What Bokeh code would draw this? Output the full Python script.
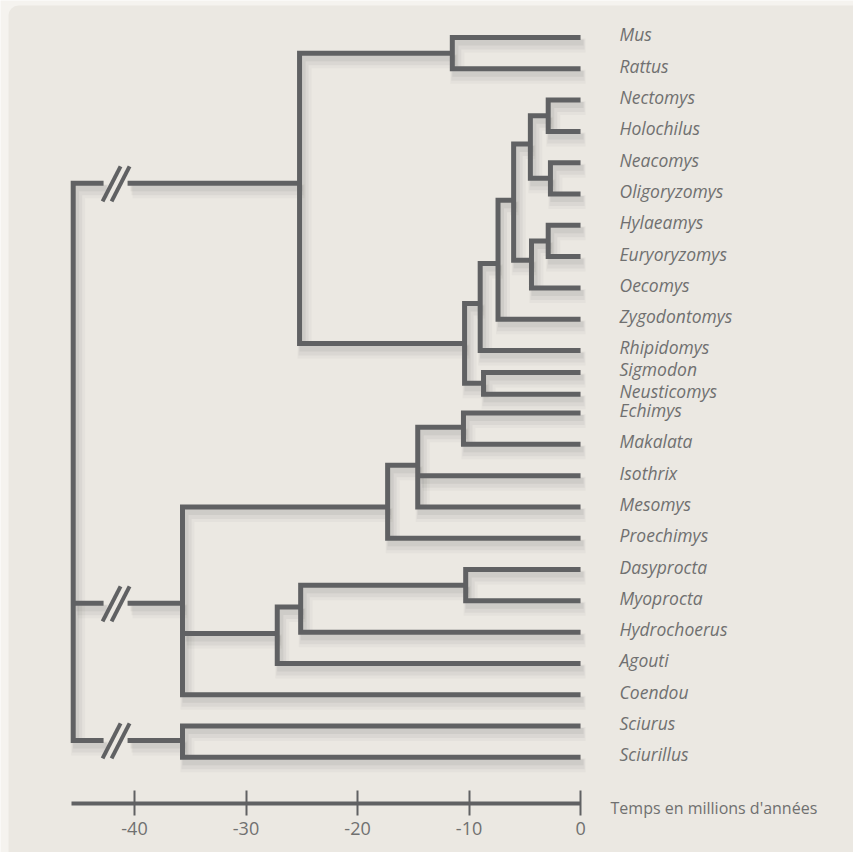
from bokeh.plotting import figure
from bokeh.models import Range1d, LinearAxis, FixedTicker, BoxAnnotation
from bokeh.embed import file_html
from bokeh.resources import INLINE
from bokeh.core.properties import value

# ---------------- data ----------------
leaf_names = ["Mus", "Rattus", "Nectomys", "Holochilus", "Neacomys", "Oligoryzomys",
              "Hylaeamys", "Euryoryzomys", "Oecomys", "Zygodontomys", "Rhipidomys",
              "Sigmodon", "Neusticomys", "Echimys", "Makalata", "Isothrix", "Mesomys",
              "Proechimys", "Dasyprocta", "Myoprocta", "Hydrochoerus", "Agouti",
              "Coendou", "Sciurus", "Sciurillus"]
leaf_rows = [0, 1, 2, 3, 4, 5, 6, 7, 8, 9, 10, 10.7, 11.4, 12, 13, 14, 15, 16,
             17, 18, 19, 20, 21, 22, 23]
leaf_parent = ["MusRattus", "MusRattus", "NectHolo", "NectHolo", "NeacOlig", "NeacOlig",
               "HylEury", "HylEury", "HylOec", "CladeB", "CladeA",
               "SigNeus", "SigNeus", "EchMak", "EchMak", "Echimyinae", "Echimyinae",
               "Echimyidae", "DasyMyo", "DasyMyo", "HydroN", "AgoutiN",
               "Hystricognathi", "Sciuridae", "Sciuridae"]

node_names = ["Racine", "Muridae", "MusRattus", "Sigmodontinae", "CladeA", "CladeB",
              "CladeC", "Oryz", "NectHolo", "NeacOlig", "HylOec", "HylEury", "SigNeus",
              "Hystricognathi", "Echimyidae", "Echimyinae", "EchMak", "AgoutiN",
              "HydroN", "DasyMyo", "Sciuridae"]
node_ages = [-45.5, -25.2, -11.5, -10.4, -9.0, -7.4,
             -6.0, -4.5, -2.9, -2.7, -4.4, -2.9, -8.7,
             -35.7, -17.3, -14.6, -10.5, -27.2,
             -25.1, -10.3, -35.7]
node_rows = [13.5, 4.66, 0.5, 9.78, 8.5, 7.22,
             5.2, 3.4, 2.5, 4.5, 7.12, 6.5, 11.05,
             18.08, 15.0, 13.67, 12.45, 19.04,
             18.2, 17.5, 22.46]
node_parent = [None, "Racine", "Muridae", "Muridae", "Sigmodontinae", "CladeA",
               "CladeB", "CladeC", "Oryz", "Oryz", "CladeC", "HylOec", "Sigmodontinae",
               "Racine", "Hystricognathi", "Echimyidae", "Echimyinae", "Hystricognathi",
               "AgoutiN", "HydroN", "Racine"]

broken_parent = "Racine"      # branches cut by the // marks
break_age = -41.7
axis_ticks = [-40, -30, -20, -10, 0]
axis_title = "Temps en millions d'années"

# ---------------- style ----------------
W, H = 853, 852
X_LO, X_HI = -52.02, 24.48
Y_TOP, Y_BOT = -1.182, 26.04
AXIS_ROW = 24.47
LINE = "#606163"
TEXT = "#707070"
BG = "#ebe8e2"
OUTER = "#f5f3ef"

ux = (X_HI - X_LO) / W      # data units per pixel (x)
uy = (Y_BOT - Y_TOP) / H    # rows per pixel (y)

p = figure(width=W, height=H, x_range=Range1d(X_LO, X_HI), y_range=Range1d(Y_BOT, Y_TOP),
           output_backend="svg", toolbar_location=None,
           x_axis_location=None, y_axis_location=None, min_border=0)
p.xgrid.visible = False
p.ygrid.visible = False
p.outline_line_color = None
p.background_fill_color = OUTER
p.border_fill_color = OUTER

# card
p.add_layout(BoxAnnotation(left=X_LO + 8 * ux, right=X_HI + 5, top=Y_TOP + 5 * uy,
                           bottom=Y_BOT + 5, fill_color=BG, fill_alpha=1.0,
                           line_color=None, border_radius=10, level="underlay"))

# ---------------- tree geometry ----------------
pos = {}
for n, r in zip(leaf_names, leaf_rows):
    pos[n] = (0.0, r)
for n, a, r in zip(node_names, node_ages, node_rows):
    pos[n] = (a, r)
kids = {n: [] for n in node_names}
for n, par in zip(leaf_names, leaf_parent):
    kids[par].append(n)
for n, par in zip(node_names, node_parent):
    if par is not None:
        kids[par].append(n)

gap = 12 * ux
xs, ys = [], []
slash_x, slash_y = [], []
for par, ch in kids.items():
    ch = sorted(ch, key=lambda k: pos[k][1])
    px, _ = pos[par]
    top, bot = ch[0], ch[-1]
    broken = par == broken_parent
    endx = (lambda k: break_age - gap) if broken else (lambda k: pos[k][0])
    xs.append([endx(top), px, px, endx(bot)])
    ys.append([pos[top][1], pos[top][1], pos[bot][1], pos[bot][1]])
    for k in ch[1:-1]:
        xs.append([px, endx(k)])
        ys.append([pos[k][1], pos[k][1]])
    if broken:
        for k in ch:
            r = pos[k][1]
            xs.append([break_age + gap, pos[k][0]])
            ys.append([r, r])
            for off in (-13, -4):
                slash_x.append([break_age + off * ux, break_age + (off + 18) * ux])
                slash_y.append([r + 18 * uy, r - 17 * uy])

# soft shadow
for w, a, dx, dy in [(14, 0.04, 5, 8), (10, 0.06, 4, 7), (6, 0.08, 3, 5)]:
    p.multi_line([[x + dx * ux for x in xx] for xx in xs],
                 [[y + dy * uy for y in yy] for yy in ys],
                 line_color="#4a4a4a", line_alpha=a, line_width=w, line_join="miter")

p.multi_line(xs, ys, line_color=LINE, line_width=5, line_join="miter", line_cap="butt")
p.multi_line(slash_x, slash_y, line_color=LINE, line_width=4)

# leaf labels
p.text(x=[0.0] * len(leaf_names), y=leaf_rows, text=leaf_names,
       x_offset=39, y_offset=-3,
       text_font=value("Open Sans"), text_font_style="italic", text_font_size="17.5px",
       text_color=TEXT, text_baseline="middle", text_align="left")

# time axis (drawn inside the frame at the axis row)
ax = LinearAxis(ticker=FixedTicker(ticks=axis_ticks), bounds=(node_ages[0] - 0.15, 0),
                fixed_location=AXIS_ROW,
                major_label_overrides={t: str(t) for t in axis_ticks})
ax.axis_line_color = LINE
ax.axis_line_width = 4
ax.major_tick_line_color = LINE
ax.major_tick_line_width = 2
ax.major_tick_in = 13
ax.major_tick_out = 12
ax.minor_tick_line_color = None
ax.major_label_standoff = 7
ax.major_label_text_font = "Open Sans"
ax.major_label_text_font_size = "18px"
ax.major_label_text_color = TEXT
p.add_layout(ax, "below")

p.text(x=[0.0], y=[AXIS_ROW], text=[axis_title], x_offset=30, y_offset=5,
       text_font=value("Open Sans"), text_font_size="16px", text_color=TEXT,
       text_baseline="middle", text_align="left")

html = file_html(p, INLINE)
open("out.html", "w").write(html)
